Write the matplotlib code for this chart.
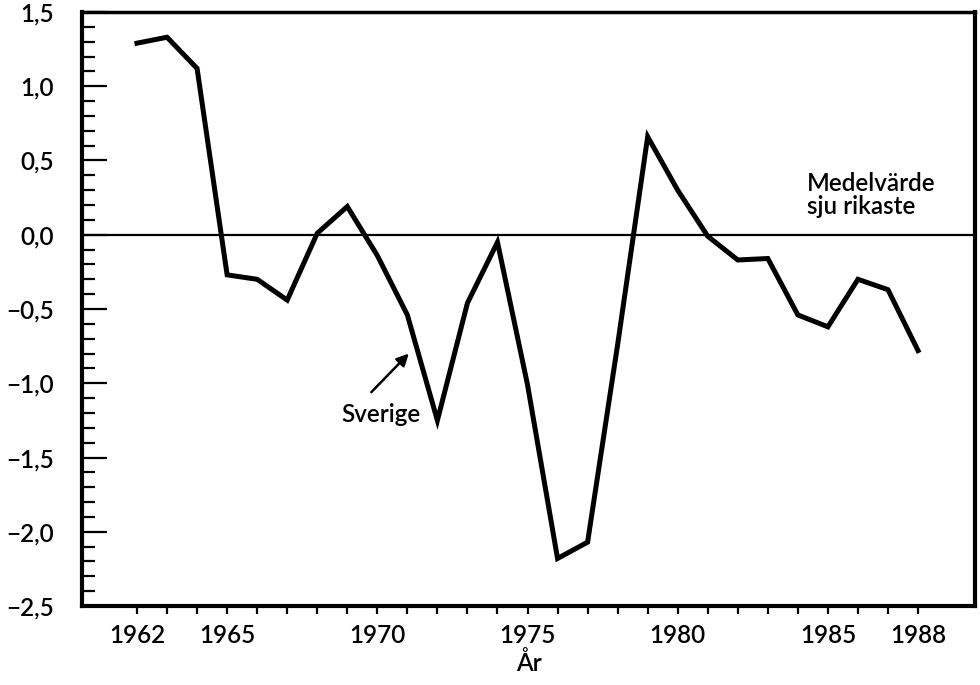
import numpy as np
import matplotlib.pyplot as plt
from matplotlib.ticker import FixedLocator, MultipleLocator, FuncFormatter

plt.rcParams['font.family'] = ['Lato', 'DejaVu Sans']

# Sweden relative to the mean of the seven richest countries
years = list(range(1962, 1989))
sverige = [1.29, 1.33, 1.12, -0.27, -0.30, -0.44, 0.01, 0.19, -0.14, -0.54,
           -1.25, -0.46, -0.05, -1.01, -2.18, -2.07, -0.74, 0.66, 0.30, -0.01,
           -0.17, -0.16, -0.54, -0.62, -0.30, -0.37, -0.78]
year_labels = [1962, 1965, 1970, 1975, 1980, 1985, 1988]
y_ticks = [1.5, 1.0, 0.5, 0.0, -0.5, -1.0, -1.5, -2.0, -2.5]

fig = plt.figure(figsize=(9.8, 6.85), dpi=100)
ax = fig.add_axes([0.0837, 0.1153, 0.9113, 0.8672])

ax.axhline(0, color='black', linewidth=1.6, zorder=2)
ax.plot(years, sverige, color='black', linewidth=3.6, solid_joinstyle='miter', zorder=3)

ax.set_xlim(1960.17, 1989.9)
ax.set_ylim(-2.5, 1.5)

# y axis: long inward majors, short inward minors
ax.yaxis.set_major_locator(FixedLocator(y_ticks))
ax.yaxis.set_minor_locator(MultipleLocator(0.1))
ax.yaxis.set_major_formatter(FuncFormatter(
    lambda v, p: f'{v:.1f}'.replace('.', ',').replace('-', '\u2212')))
ax.tick_params(axis='y', which='major', direction='in', length=18, width=1.6,
               labelsize=17.5, pad=20)
ax.tick_params(axis='y', which='minor', direction='in', length=9, width=1.6)

# x axis: a tick every year, labels only on some
ax.xaxis.set_major_locator(FixedLocator(years))
ax.xaxis.set_major_formatter(FuncFormatter(
    lambda v, p: str(int(round(v))) if int(round(v)) in year_labels else ''))
ax.tick_params(axis='x', which='major', direction='out', length=6, width=1.6,
               labelsize=17.5, pad=7)
for lab in ax.get_xticklabels() + ax.get_yticklabels():
    lab.set_fontweight('semibold')

for side in ['left', 'bottom', 'right']:
    ax.spines[side].set_linewidth(3)
ax.spines['top'].set_linewidth(2.5)

ax.set_xlabel('År', fontsize=17.5, fontweight='semibold', labelpad=3)

ax.text(1984.3, 0.27, 'Medelvärde\nsju rikaste', fontsize=17.5,
        fontweight='semibold', ha='left', va='center', linespacing=1.0)
ax.text(1970.13, -1.21, 'Sverige', fontsize=17.5, fontweight='semibold',
        ha='center', va='center')
ax.annotate('', xy=(1971.05, -0.80), xytext=(1969.8, -1.06),
            arrowprops=dict(arrowstyle='-|>', color='black', lw=1.8,
                            mutation_scale=18, shrinkA=0, shrinkB=0))

fig.savefig('out.png', dpi=100)
